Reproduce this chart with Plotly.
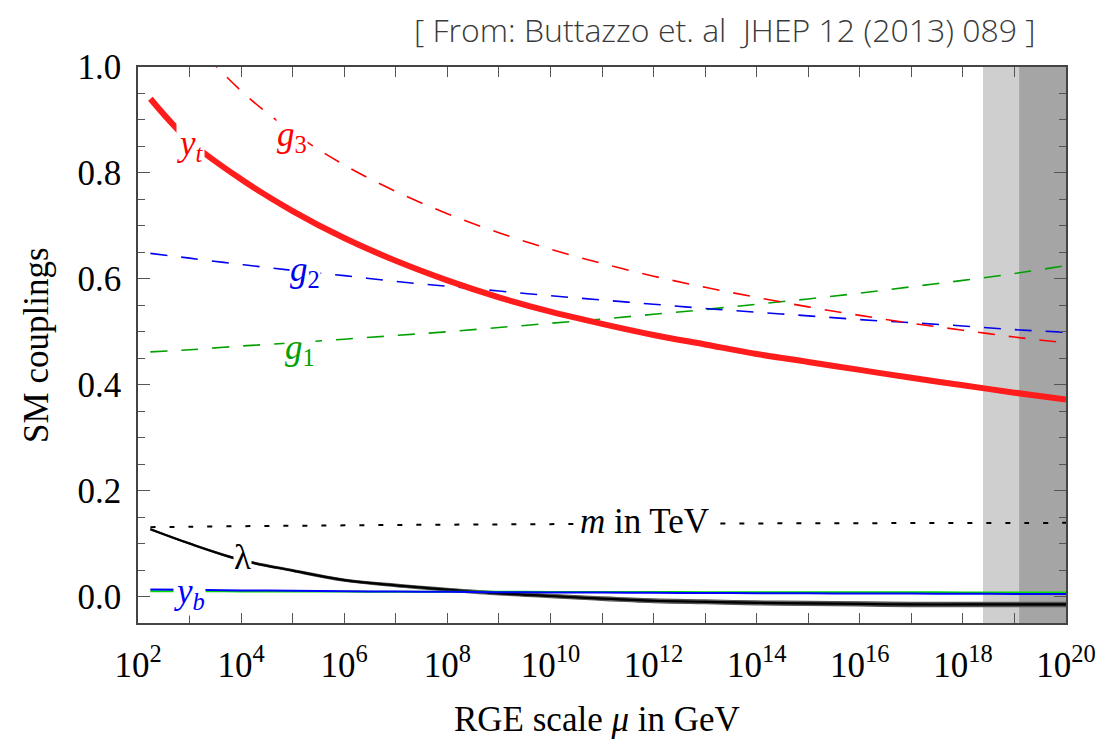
import plotly.graph_objects as go

# ---------------- data ----------------
log_mu = [2.24, 3, 4, 5, 6, 7, 8, 9, 10, 11, 12, 13, 14, 15, 16, 17, 18, 19, 20]

g3 = [1.164, 1.058, 0.955, 0.877, 0.815, 0.765, 0.723, 0.687, 0.656, 0.629,
      0.605, 0.584, 0.565, 0.547, 0.531, 0.516, 0.503, 0.490, 0.479]
g2 = [0.648, 0.639, 0.627, 0.616, 0.606, 0.595, 0.586, 0.577, 0.568, 0.560,
      0.552, 0.544, 0.537, 0.530, 0.523, 0.517, 0.511, 0.504, 0.499]
g1 = [0.462, 0.466, 0.473, 0.479, 0.486, 0.493, 0.500, 0.508, 0.516, 0.524,
      0.533, 0.542, 0.552, 0.562, 0.573, 0.585, 0.597, 0.610, 0.625]
yt = [0.940, 0.860, 0.788, 0.728, 0.677, 0.634, 0.597, 0.565, 0.538, 0.515,
      0.494, 0.476, 0.458, 0.443, 0.428, 0.413, 0.399, 0.385, 0.372]
lam = [0.127, 0.100, 0.069, 0.049, 0.031, 0.021, 0.013, 0.006, 0.001, -0.004,
       -0.008, -0.010, -0.012, -0.013, -0.014, -0.015, -0.015, -0.015, -0.015]
lam_err = [0.001, 0.0012, 0.0015, 0.0018, 0.002, 0.0023, 0.0025, 0.0028, 0.003, 0.0032,
           0.0034, 0.0036, 0.0037, 0.0038, 0.0039, 0.004, 0.004, 0.004, 0.004]
yb = [0.0135, 0.0127, 0.0116, 0.0108, 0.0100, 0.0094, 0.0088, 0.0083, 0.0078, 0.0074,
      0.0070, 0.0066, 0.0063, 0.0060, 0.0057, 0.0055, 0.0052, 0.0050, 0.0048]
ytau = [0.0100, 0.0099, 0.0097, 0.0095, 0.0093, 0.0092, 0.0090, 0.0089, 0.0087, 0.0086,
        0.0085, 0.0083, 0.0082, 0.0081, 0.0080, 0.0079, 0.0078, 0.0077, 0.0076]
m_tev = [0.131, 0.1318, 0.1328, 0.1336, 0.1344, 0.1351, 0.1357, 0.1362, 0.1367, 0.1371,
         0.1375, 0.1378, 0.1381, 0.1383, 0.1385, 0.1387, 0.1389, 0.1390, 0.1391]

band_light = [18.39, 19.09]
band_dark = [19.09, 20.0]

x_tick_exp = list(range(2, 21))
y_ticks = [0.0, 0.2, 0.4, 0.6, 0.8, 1.0]

mu = [10.0 ** v for v in log_mu]
lam_hi = [a + b for a, b in zip(lam, lam_err)]
lam_lo = [a - b for a, b in zip(lam, lam_err)]

SERIF = "Liberation Serif"

fig = go.Figure()

# lambda band
fig.add_trace(go.Scatter(x=mu, y=lam_hi, mode="lines", line=dict(color="#555", width=1.2, shape="spline"),
                         hoverinfo="skip", showlegend=False))
fig.add_trace(go.Scatter(x=mu, y=lam_lo, mode="lines", line=dict(color="#555", width=1.2, shape="spline"),
                         fill="tonexty", fillcolor="rgba(40,40,40,0.85)", hoverinfo="skip", showlegend=False))
fig.add_trace(go.Scatter(x=mu, y=lam, mode="lines", line=dict(color="black", width=2.2, shape="spline"),
                         name="lambda", showlegend=False))

fig.add_trace(go.Scatter(x=mu, y=ytau, mode="lines", line=dict(color="#00dd00", width=2, shape="spline"),
                         name="y_tau", showlegend=False))
fig.add_trace(go.Scatter(x=mu, y=yb, mode="lines", line=dict(color="#0000ff", width=2, shape="spline"),
                         name="y_b", showlegend=False))

fig.add_trace(go.Scatter(x=mu, y=m_tev, mode="lines",
                         line=dict(color="black", width=2, dash="5px,14px", shape="spline"),
                         name="m", showlegend=False))

fig.add_trace(go.Scatter(x=mu, y=g1, mode="lines",
                         line=dict(color="#00a000", width=1.6, dash="17px,14px", shape="spline"),
                         name="g1", showlegend=False))
fig.add_trace(go.Scatter(x=mu, y=g2, mode="lines",
                         line=dict(color="#0000ee", width=1.6, dash="17px,14px", shape="spline"),
                         name="g2", showlegend=False))
fig.add_trace(go.Scatter(x=mu, y=g3, mode="lines",
                         line=dict(color="#ff0000", width=1.6, dash="17px,14px", shape="spline"),
                         name="g3", showlegend=False))
fig.add_trace(go.Scatter(x=mu, y=yt, mode="lines",
                         line=dict(color="#ff1c1c", width=6, shape="spline"),
                         name="y_t", showlegend=False))

# shaded bands
fig.add_shape(type="rect", xref="x", yref="paper", x0=10.0 ** band_light[0], x1=10.0 ** band_light[1],
              y0=0, y1=1, fillcolor="#cfcfcf", line_width=0, layer="below")
fig.add_shape(type="rect", xref="x", yref="paper", x0=10.0 ** band_dark[0], x1=10.0 ** band_dark[1],
              y0=0, y1=1, fillcolor="#a5a5a5", line_width=0, layer="below")

labels = [
    (3.01, 0.852, "<i>y<sub>t</sub></i>", "#ff0000"),
    (4.99, 0.869, "<i>g</i><sub>3</sub>", "#ff0000"),
    (5.24, 0.614, "<i>g</i><sub>2</sub>", "#0000ee"),
    (5.14, 0.466, "<i>g</i><sub>1</sub>", "#00a000"),
    (4.02, 0.074, "λ", "black"),
    (2.99, 0.006, "<i>y<sub>b</sub></i>", "#0000ff"),
    (11.83, 0.142, "<i>m</i> in TeV", "black"),
]
for x, y, t, c in labels:
    fig.add_annotation(x=x, y=y, xref="x", yref="y", text=t, showarrow=False,
                       font=dict(family=SERIF, size=35, color=c), bgcolor="white",
                       borderpad=0, xanchor="center", yanchor="middle")

fig.add_annotation(x=-0.11, y=0.5, xref="paper", yref="paper", text="SM couplings",
                   textangle=-90, showarrow=False, font=dict(family=SERIF, size=35, color="black"),
                   xanchor="center", yanchor="middle")
fig.add_annotation(x=0.495, y=-0.173, xref="paper", yref="paper", text="RGE scale <i>μ</i> in GeV",
                   showarrow=False, font=dict(family=SERIF, size=35, color="black"),
                   xanchor="center", yanchor="middle")
fig.add_annotation(x=0.6325, y=1.068, xref="paper", yref="paper",
                   text="[ From: Buttazzo et. al\u00a0\u00a0JHEP 12 (2013) 089 ]",
                   showarrow=False, font=dict(family="Open Sans", size=32, color="#3a3a3a", weight=300),
                   xanchor="center", yanchor="middle")

fig.update_xaxes(type="log", range=[2, 20], automargin=False,
                 tickvals=[10.0 ** e for e in x_tick_exp],
                 ticktext=[f"10<sup>{e}</sup>" if e % 2 == 0 else "" for e in x_tick_exp],
                 ticks="inside", ticklen=10, tickwidth=1.3, tickcolor="#555",
                 showline=True, linecolor="#444", linewidth=1.6, mirror="allticks",
                 showgrid=False, zeroline=False,
                 tickfont=dict(family=SERIF, size=35, color="black"), ticklabelstandoff=10)
fig.update_yaxes(range=[-0.05, 1.0], tickvals=y_ticks, ticktext=[f"{v:.1f}" for v in y_ticks],
                 automargin=False,
                 ticks="inside", ticklen=12, tickwidth=1.3, tickcolor="#555",
                 minor=dict(dtick=0.05, tick0=0, ticks="inside", ticklen=7, tickcolor="#555", tickwidth=1.2),
                 showline=True, linecolor="#444", linewidth=1.6, mirror="allticks",
                 showgrid=False, zeroline=False,
                 tickfont=dict(family=SERIF, size=35, color="black"), ticklabelstandoff=8)

fig.update_layout(width=1099, height=740, margin=dict(l=138, r=33, t=67, b=117),
                  plot_bgcolor="white", paper_bgcolor="white", showlegend=False)

fig.write_html("out.html")
